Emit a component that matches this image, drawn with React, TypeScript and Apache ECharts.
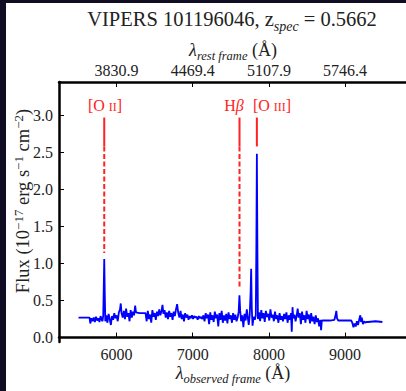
import React, { useEffect, useRef } from "react";
import * as echarts from "echarts";

const FONT = "Liberation Serif";

// observed wavelength (Å), flux (1e-17 erg/s/cm2)
const spectrumPoints: [number, number][] = [
  [5500, 0.27], [5550, 0.27], [5600, 0.27], [5645, 0.27],
  [5655, 0.19], [5670, 0.26], [5685, 0.22], [5700, 0.27], [5715, 0.21], [5730, 0.28],
  [5745, 0.23], [5760, 0.26], [5775, 0.21], [5790, 0.29], [5805, 0.24], [5815, 0.22],
  [5825, 0.3], [5832, 0.7], [5838, 1.06], [5845, 0.6], [5852, 0.22],
  [5865, 0.3], [5880, 0.2], [5895, 0.32], [5910, 0.25], [5925, 0.17], [5940, 0.29],
  [5955, 0.24], [5970, 0.33], [5985, 0.26], [6000, 0.3], [6015, 0.22], [6030, 0.34],
  [6045, 0.38], [6055, 0.46], [6065, 0.33], [6080, 0.27], [6095, 0.36], [6110, 0.25],
  [6125, 0.39], [6140, 0.28], [6155, 0.33], [6170, 0.22], [6185, 0.37], [6200, 0.27],
  [6215, 0.35], [6230, 0.3], [6244, 0.43], [6255, 0.34], [6300, 0.33], [6360, 0.33],
  [6380, 0.33], [6395, 0.22], [6410, 0.36], [6425, 0.25], [6440, 0.31], [6455, 0.2],
  [6470, 0.37], [6485, 0.28], [6500, 0.33], [6515, 0.24], [6530, 0.35], [6545, 0.29],
  [6560, 0.38], [6575, 0.3], [6590, 0.36], [6603, 0.44], [6615, 0.32], [6630, 0.37],
  [6645, 0.27], [6660, 0.34], [6675, 0.25], [6690, 0.36], [6705, 0.28], [6720, 0.33],
  [6735, 0.24], [6750, 0.35], [6765, 0.29], [6780, 0.38], [6795, 0.45], [6810, 0.33],
  [6825, 0.27], [6840, 0.36], [6855, 0.25], [6870, 0.31], [6885, 0.22], [6900, 0.33],
  [6915, 0.27], [6930, 0.31], [6945, 0.24], [6960, 0.29], [6975, 0.26], [6990, 0.3],
  [7005, 0.25], [7020, 0.29], [7035, 0.27], [7050, 0.28], [7065, 0.24], [7080, 0.29],
  [7095, 0.26], [7110, 0.28], [7125, 0.25], [7140, 0.3], [7155, 0.22], [7170, 0.33],
  [7185, 0.26], [7200, 0.31], [7215, 0.18], [7230, 0.34], [7245, 0.24], [7260, 0.3],
  [7275, 0.21], [7290, 0.35], [7305, 0.26], [7320, 0.31], [7335, 0.15], [7350, 0.33],
  [7365, 0.24], [7380, 0.36], [7395, 0.2], [7410, 0.3], [7425, 0.23], [7440, 0.32],
  [7455, 0.19], [7470, 0.34], [7485, 0.25], [7500, 0.3], [7515, 0.2], [7530, 0.33],
  [7545, 0.24], [7560, 0.31], [7575, 0.22], [7590, 0.27], [7603, 0.35], [7613, 0.57],
  [7623, 0.36], [7635, 0.22], [7650, 0.3], [7665, 0.14], [7680, 0.32], [7695, 0.23],
  [7710, 0.38], [7722, 0.28], [7735, 0.17], [7748, 0.3], [7760, 0.62], [7767, 0.93],
  [7775, 0.4], [7785, 0.16], [7800, 0.28], [7815, 0.24], [7828, 0.3], [7835, 1.2],
  [7842, 2.48], [7849, 1.2], [7856, 0.25], [7870, 0.34], [7885, 0.22], [7900, 0.37],
  [7915, 0.26], [7930, 0.33], [7945, 0.21], [7960, 0.36], [7975, 0.28], [7990, 0.32],
  [8005, 0.23], [8020, 0.38], [8035, 0.27], [8050, 0.31], [8065, 0.22], [8080, 0.35],
  [8095, 0.25], [8110, 0.3], [8125, 0.2], [8140, 0.33], [8155, 0.24], [8170, 0.29],
  [8185, 0.22], [8200, 0.32], [8215, 0.25], [8230, 0.34], [8245, 0.2], [8260, 0.3],
  [8275, 0.24], [8290, 0.33], [8300, 0.08], [8310, 0.41], [8320, 0.26], [8335, 0.31],
  [8350, 0.22], [8365, 0.3], [8378, 0.39], [8390, 0.27], [8405, 0.33], [8420, 0.18],
  [8435, 0.35], [8450, 0.24], [8465, 0.3], [8480, 0.2], [8495, 0.36], [8510, 0.25],
  [8525, 0.31], [8540, 0.19], [8555, 0.33], [8570, 0.22], [8585, 0.28], [8600, 0.18],
  [8615, 0.3], [8630, 0.21], [8645, 0.26], [8660, 0.15], [8675, 0.24], [8685, 0.1],
  [8695, 0.23], [8750, 0.23], [8800, 0.23], [8860, 0.24], [8875, 0.3], [8885, 0.36],
  [8895, 0.26], [8910, 0.23], [9000, 0.23], [9080, 0.23], [9095, 0.2], [9110, 0.14],
  [9125, 0.19], [9140, 0.15], [9155, 0.22], [9170, 0.17], [9185, 0.24], [9200, 0.3],
  [9210, 0.21], [9220, 0.27], [9235, 0.18], [9250, 0.22], [9265, 0.2], [9280, 0.21],
  [9300, 0.21], [9400, 0.22], [9490, 0.21],
];

const lineNames = ["[O II]", "Hβ", "[O III]"];
const lineObserved = [5838, 7614, 7842];
const lineTop = [2.97, 2.97, 2.97];
const lineSolidEnd = [2.58, 2.58, 2.58];
const lineDashEnd = [1.14, 0.66, 2.58];

const observedTicks = [6000, 7000, 8000, 9000];
const observedTickLabels = ["6000", "7000", "8000", "9000"];
const restFrameTickLabels = ["3830.9", "4469.4", "5107.9", "5746.4"];
const fluxTicks = [0, 0.5, 1, 1.5, 2, 2.5, 3];
const fluxTickLabels = ["0.0", "0.5", "1.0", "1.5", "2.0", "2.5", "3.0"];

const X_MIN = 5244;
const X_MAX = 9800;
const Y_MIN = -0.06;
const Y_MAX = 3.45;

const RED = "#ff2222";

export default function App() {
  const ref = useRef<HTMLDivElement>(null);
  useEffect(() => {
    if (!ref.current) return;
    const chart = echarts.init(ref.current, null, { renderer: "svg" });

    const lineSeries: any[] = [];
    lineObserved.forEach((w, i) => {
      lineSeries.push({
        type: "line",
        name: lineNames[i],
        data: [[w, lineTop[i]], [w, lineSolidEnd[i]]],
        showSymbol: false,
        lineStyle: { color: RED, width: 2 },
        z: 3,
      });
      if (lineDashEnd[i] < lineSolidEnd[i]) {
        lineSeries.push({
          type: "line",
          name: lineNames[i],
          data: [[w, lineSolidEnd[i]], [w, lineDashEnd[i]]],
          showSymbol: false,
          lineStyle: { color: RED, width: 2, type: [5, 2.5] },
          z: 3,
        });
      }
    });

    const tickLabel = { fontFamily: FONT, fontSize: 16, color: "#222" };
    const axisLine = { show: true, lineStyle: { color: "#000", width: 2.5 } };
    const axisTick = { show: true, inside: true, length: 5, lineStyle: { color: "#000", width: 1 } };

    const lbl = (values: number[], labels: string[]) => (v: number) => {
      const idx = values.findIndex((t) => Math.abs(t - v) < 1e-6);
      return idx >= 0 ? labels[idx] : "";
    };

    const n = { fontFamily: FONT, fill: "#222", fontSize: 18, lineHeight: 20, verticalAlign: "bottom" };
    const it = { ...n, fontStyle: "italic" };

    const option: any = {
      animation: false,
      backgroundColor: "#ffffff",
      textStyle: { fontFamily: FONT },
      grid: { left: 59, top: 82, width: 355, height: 260 },
      xAxis: [
        {
          type: "value",
          min: X_MIN,
          max: X_MAX,
          position: "bottom",
          axisLine,
          axisTick: { ...axisTick, customValues: observedTicks },
          axisLabel: {
            ...tickLabel,
            margin: 4,
            customValues: observedTicks,
            formatter: lbl(observedTicks, observedTickLabels),
          },
          splitLine: { show: false },
        },
        {
          type: "value",
          min: X_MIN,
          max: X_MAX,
          position: "top",
          axisLine,
          axisTick: { ...axisTick, customValues: observedTicks },
          axisLabel: {
            ...tickLabel,
            margin: 4,
            customValues: observedTicks,
            formatter: lbl(observedTicks, restFrameTickLabels),
          },
          splitLine: { show: false },
        },
      ],
      yAxis: {
        type: "value",
        min: Y_MIN,
        max: Y_MAX,
        axisLine,
        axisTick: { ...axisTick, customValues: fluxTicks },
        axisLabel: {
          ...tickLabel,
          margin: 6,
          customValues: fluxTicks,
          formatter: lbl(fluxTicks, fluxTickLabels),
        },
        splitLine: { show: false },
      },
      series: [
        {
          type: "line",
          name: "spectrum",
          data: spectrumPoints,
          showSymbol: false,
          lineStyle: { color: "#0000ff", width: 1.8 },
          z: 2,
        },
        ...lineSeries,
      ],
      graphic: [
        {
          type: "rect",
          shape: { x: 0, y: 0, width: 6, height: 391 },
          style: { fill: "#100c22" },
          z: 100,
        },
        {
          type: "rect",
          shape: { x: 0, y: 0, width: 406, height: 3 },
          style: { fill: "#100c22" },
          z: 100,
        },
        {
          type: "text",
          x: 232,
          y: 18,
          style: {
            text: "{n|VIPERS 101196046, z}{s|spec}{n| = 0.5662}",
            rich: {
              n: { ...n, fontSize: 20.5, lineHeight: 22 },
              s: { ...it, fontSize: 14, lineHeight: 18, verticalAlign: "bottom", padding: [0, 0, -4, 0] },
            },
            align: "center",
            verticalAlign: "middle",
          },
        },
        {
          type: "text",
          x: 233,
          y: 49,
          style: {
            text: "{l|λ}{s|rest frame}{n| (Å)}",
            rich: {
              l: { ...it, fontSize: 18 },
              s: { ...it, fontSize: 12.5, lineHeight: 14, padding: [0, 0, -3, 0] },
              n: { ...n },
            },
            align: "center",
            verticalAlign: "middle",
          },
        },
        {
          type: "text",
          x: 233,
          y: 372,
          style: {
            text: "{l|λ}{s|observed frame}{n| (Å)}",
            rich: {
              l: { ...it, fontSize: 18 },
              s: { ...it, fontSize: 12.5, lineHeight: 14, padding: [0, 0, -3, 0] },
              n: { ...n },
            },
            align: "center",
            verticalAlign: "middle",
          },
        },
        {
          type: "text",
          x: 22,
          y: 201,
          rotation: Math.PI / 2,
          style: {
            text: "{n|Flux (10}{p|−17}{n| erg s}{p|−1}{n| cm}{p|−2}{n|)}",
            rich: {
              n: { ...n, fontSize: 18.5 },
              p: { ...n, fontSize: 13, lineHeight: 12, verticalAlign: "top" },
            },
            align: "center",
            verticalAlign: "middle",
          },
        },
        {
          type: "text",
          x: 105,
          y: 104,
          style: {
            text: "{n|[O }{c|II}{n|]}",
            rich: {
              n: { ...n, fill: RED, fontSize: 16, lineHeight: 18 },
              c: { ...n, fill: RED, fontSize: 12, lineHeight: 14 },
            },
            align: "center",
            verticalAlign: "middle",
          },
        },
        {
          type: "text",
          x: 234,
          y: 104,
          style: {
            text: "{n|H}{b|β}",
            rich: {
              n: { ...n, fill: RED, fontSize: 16, lineHeight: 18 },
              b: { ...it, fill: RED, fontSize: 16, lineHeight: 18 },
            },
            align: "center",
            verticalAlign: "middle",
          },
        },
        {
          type: "text",
          x: 272,
          y: 104,
          style: {
            text: "{n|[O }{c|III}{n|]}",
            rich: {
              n: { ...n, fill: RED, fontSize: 16, lineHeight: 18 },
              c: { ...n, fill: RED, fontSize: 12, lineHeight: 14 },
            },
            align: "center",
            verticalAlign: "middle",
          },
        },
      ],
    };
    chart.setOption(option);
    return () => chart.dispose();
  }, []);

  return (
    <div
      ref={ref}
      style={{ position: "absolute", left: 0, top: 0, width: 406, height: 391 }}
    />
  );
}
